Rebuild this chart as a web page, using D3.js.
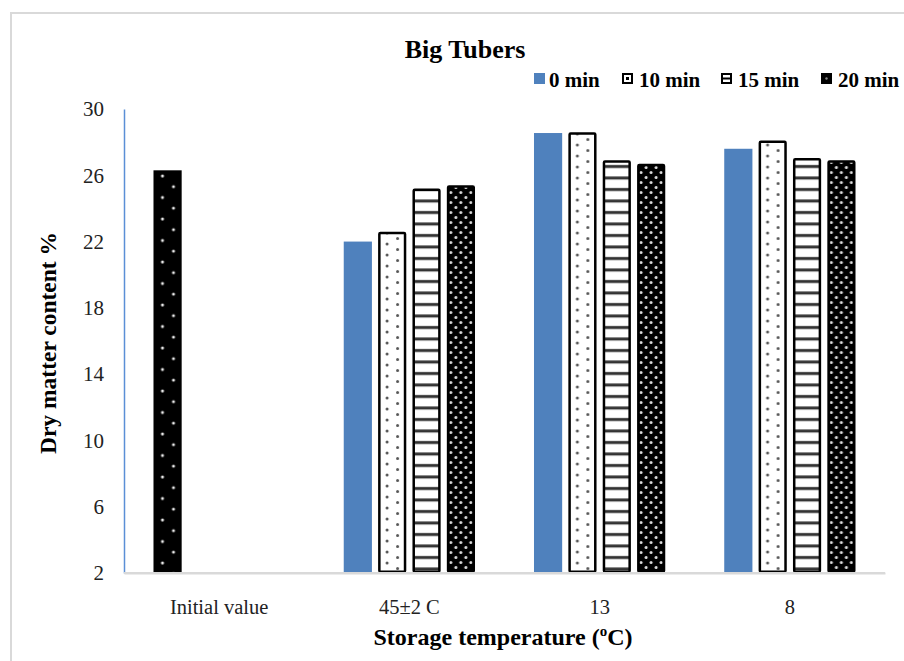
<!DOCTYPE html>
<html>
<head>
<meta charset="utf-8">
<script src="https://cdn.jsdelivr.net/npm/d3@7"></script>
<style>
  html, body { margin: 0; padding: 0; background: #fff; }
  svg { display: block; }
  svg text { font-family: "Liberation Serif", "Times New Roman", Times, "DejaVu Serif", serif !important; }
</style>
</head>
<body>
<svg id="chart" width="904" height="661"></svg>
<script>
// Dry matter content (%) of big tubers by storage temperature and treatment time
const categories = ["Initial value", "45\u00b12 C", "13", "8"];
const seriesNames = ["0 min", "10 min", "15 min", "20 min"];
const min0  = [26.3, 22.0, 28.55, 27.6];
const min10 = [null, 22.6, 28.6, 28.1];
const min15 = [null, 25.2, 26.9, 27.05];
const min20 = [null, 25.4, 26.7, 26.9];
const yTicks = [2, 6, 10, 14, 18, 22, 26, 30];

const seriesValues = [min0, min10, min15, min20];

const svg = d3.select("#chart");
const margin = { left: 124, right: 885, top: 109, bottom: 573 };

// Outer frame
svg.append("rect")
  .attr("x", 11).attr("y", 13).attr("width", 920).attr("height", 680)
  .attr("fill", "none").attr("stroke", "#d9d9d9").attr("stroke-width", 2);

const defs = svg.append("defs");

// Pattern builders; each bar gets its own pattern anchored at its left edge
function dotsPattern(id, x0) {
  const p = defs.append("pattern").attr("id", id)
    .attr("patternUnits", "userSpaceOnUse").attr("x", x0).attr("y", 0)
    .attr("width", 21).attr("height", 11);
  p.append("rect").attr("width", 21).attr("height", 11).attr("fill", "#fff");
  p.append("circle").attr("cx", 9).attr("cy", 2).attr("r", 1.5).attr("fill", "#555");
  p.append("circle").attr("cx", 19.5).attr("cy", 7.5).attr("r", 1.5).attr("fill", "#555");
  p.append("circle").attr("cx", -1.5).attr("cy", 7.5).attr("r", 1.5).attr("fill", "#555");
}
function stripePattern(id, x0) {
  const p = defs.append("pattern").attr("id", id)
    .attr("patternUnits", "userSpaceOnUse").attr("x", x0).attr("width", 10).attr("height", 11.5);
  p.append("rect").attr("width", 10).attr("height", 11.5).attr("fill", "#fff");
  p.append("rect").attr("y", 4).attr("width", 10).attr("height", 3).attr("fill", "#333");
}
function densePattern(id, x0) {
  const p = defs.append("pattern").attr("id", id)
    .attr("patternUnits", "userSpaceOnUse").attr("x", x0).attr("width", 10).attr("height", 10);
  p.append("rect").attr("width", 10).attr("height", 10).attr("fill", "#000");
  p.append("circle").attr("cx", 4).attr("cy", 2.5).attr("r", 1.5).attr("fill", "#ddd");
  p.append("circle").attr("cx", 9).attr("cy", 7.5).attr("r", 1.5).attr("fill", "#ddd");
  p.append("circle").attr("cx", -1).attr("cy", 7.5).attr("r", 1.5).attr("fill", "#ddd");
}
function initPattern(id, x0) {
  const p = defs.append("pattern").attr("id", id)
    .attr("patternUnits", "userSpaceOnUse").attr("x", x0).attr("width", 28).attr("height", 21.5);
  p.append("rect").attr("width", 28).attr("height", 21.5).attr("fill", "#000");
  p.append("circle").attr("cx", 9).attr("cy", 4).attr("r", 1.5).attr("fill", "#eee");
  p.append("circle").attr("cx", 20).attr("cy", 14.7).attr("r", 1.5).attr("fill", "#eee");
}

const seriesColor = "#4f81bd";
const patternMakers = [null, dotsPattern, stripePattern, densePattern];
const seriesStroke = ["none", "#000", "#000", "#000"];

// Scales
const x0 = d3.scaleBand().domain(categories)
  .range([margin.left, margin.right]).paddingInner(0.31).paddingOuter(0.155);
const x1 = d3.scaleBand().domain(seriesNames)
  .range([0, x0.bandwidth()]).paddingInner(0.18).paddingOuter(0);
const y = d3.scaleLinear().domain([2, 30]).range([margin.bottom, margin.top]);

// Y axis
const yAxis = svg.append("g").attr("transform", `translate(${margin.left},0)`)
  .call(d3.axisLeft(y).tickValues(yTicks).tickSize(0).tickPadding(20).tickFormat(d3.format("d")));
yAxis.attr("font-family", null);
yAxis.select(".domain").attr("stroke", "#5b8fd6").attr("stroke-width", 1.5);
yAxis.selectAll("text").attr("font-size", 21).attr("fill", "#222");

// X axis
const xAxis = svg.append("g").attr("transform", `translate(0,${margin.bottom})`)
  .call(d3.axisBottom(x0).tickSize(0).tickPadding(26).tickSizeOuter(0));
xAxis.attr("font-family", null);
xAxis.select(".domain").attr("stroke", "#d9d9d9").attr("stroke-width", 2);
xAxis.selectAll("text").attr("font-size", 20.5).attr("fill", "#222");

// Bars
const barLayer = svg.append("g");
categories.forEach((cat, ci) => {
  seriesNames.forEach((s, si) => {
    const v = seriesValues[si][ci];
    if (v == null) return;
    const isInitial = ci === 0;
    const bx = x0(cat) + x1(s);
    let fill = seriesColor;
    const pid = `pat-${ci}-${si}`;
    if (isInitial) { initPattern(pid, bx); fill = `url(#${pid})`; }
    else if (patternMakers[si]) { patternMakers[si](pid, bx); fill = `url(#${pid})`; }
    const sw = (isInitial || seriesStroke[si] === "none") ? 0 : 2.5;
    barLayer.append("rect")
      .attr("x", bx + sw / 2)
      .attr("y", y(v) + sw / 2)
      .attr("width", x1.bandwidth() - sw)
      .attr("height", y(2) - y(v) - sw)
      .attr("fill", fill)
      .attr("stroke", isInitial ? "none" : seriesStroke[si])
      .attr("stroke-width", sw)
      .attr("rx", sw ? 1 : 0);
  });
});

// Axis line drawn over the bar bottoms
svg.append("line")
  .attr("x1", margin.left).attr("x2", margin.right)
  .attr("y1", margin.bottom).attr("y2", margin.bottom)
  .attr("stroke", "#d9d9d9").attr("stroke-width", 2);

// Title
svg.append("text").attr("x", 465).attr("y", 58).attr("text-anchor", "middle")
  .attr("font-size", 26).attr("font-weight", "bold").text("Big Tubers");

// Legend
const legendX = [534, 622, 721, 821];
const legend = svg.append("g");
seriesNames.forEach((s, i) => {
  const lg = legend.append("g").attr("transform", `translate(${legendX[i]},73)`);
  const sw = seriesStroke[i] === "none" ? 0 : 2;
  lg.append("rect").attr("x", sw / 2).attr("y", sw / 2)
    .attr("width", 11 - sw).attr("height", 11 - sw)
    .attr("fill", i === 3 ? "#000" : (i === 0 ? seriesColor : "#fff"))
    .attr("stroke", seriesStroke[i]).attr("stroke-width", sw);
  if (i === 1) lg.append("rect").attr("x", 4).attr("y", 4).attr("width", 3).attr("height", 3).attr("fill", "#000");
  if (i === 2) lg.append("rect").attr("x", 1).attr("y", 4.5).attr("width", 9).attr("height", 2).attr("fill", "#000");
  if (i === 3) lg.append("circle").attr("cx", 5.5).attr("cy", 5.5).attr("r", 1.2).attr("fill", "#888");
  lg.append("text").attr("x", i === 0 ? 15 : 17).attr("y", 13.5)
    .attr("font-size", 21).attr("font-weight", "bold").text(s);
});

// Axis titles
const xt = svg.append("text").attr("x", 503).attr("y", 645).attr("text-anchor", "middle")
  .attr("font-size", 24).attr("font-weight", "bold");
xt.append("tspan").text("Storage temperature (");
xt.append("tspan").attr("font-size", 15).attr("dy", -9).text("o");
xt.append("tspan").attr("dy", 9).text("C)");

svg.append("text").attr("transform", "translate(56,343) rotate(-90)")
  .attr("text-anchor", "middle").attr("font-size", 23.5).attr("font-weight", "bold")
  .text("Dry matter content %");
</script>
</body>
</html>
